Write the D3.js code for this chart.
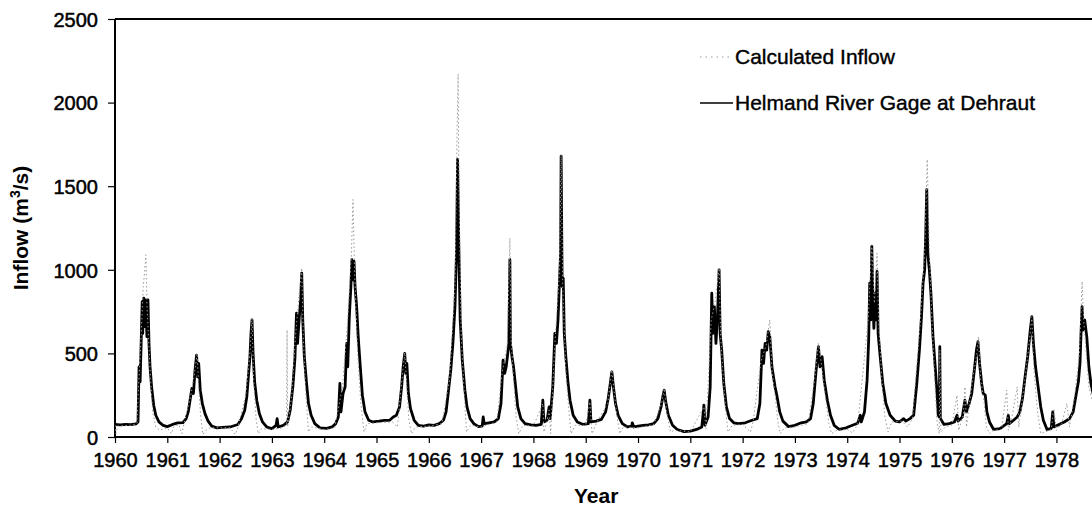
<!DOCTYPE html>
<html>
<head>
<meta charset="utf-8">
<script src="https://cdn.jsdelivr.net/npm/d3@7"></script>
<style>
  body { margin: 0; background: #fff; }
  text { font-family: "Liberation Sans", Arial, sans-serif; fill: #000; }
</style>
</head>
<body>
<script>
// tick labels
const yTicks = [0, 500, 1000, 1500, 2000, 2500];
const xTicks = d3.range(1960, 1979);
const legendLabels = ["Calculated Inflow", "Helmand River Gage at Dehraut"];

// Helmand River gage at Dehraut, [decimal year, m3/s]
const gage = [
  [1960.00,75],[1960.10,72],[1960.20,76],[1960.30,74],[1960.40,78],[1960.44,90],[1960.46,420],[1960.48,330],
  [1960.50,560],[1960.52,810],[1960.53,620],[1960.55,830],[1960.57,660],[1960.59,820],[1960.61,600],[1960.63,820],
  [1960.65,560],[1960.67,420],[1960.70,300],[1960.74,190],[1960.78,130],[1960.84,90],[1960.92,70],[1961.00,62],
  [1961.10,75],[1961.20,84],[1961.30,86],[1961.36,110],[1961.40,150],[1961.44,230],[1961.47,290],[1961.50,260],
  [1961.53,400],[1961.56,490],[1961.58,360],[1961.60,440],[1961.63,280],[1961.67,200],[1961.72,140],[1961.78,95],
  [1961.85,65],[1961.95,55],[1962.05,58],[1962.20,60],[1962.35,75],[1962.42,110],[1962.48,160],[1962.52,240],
  [1962.55,360],[1962.58,480],[1962.60,620],[1962.62,700],[1962.64,500],[1962.67,330],[1962.71,220],[1962.76,140],
  [1962.82,90],[1962.90,60],[1963.00,50],[1963.08,70],[1963.10,110],[1963.12,60],[1963.22,70],[1963.30,90],
  [1963.35,160],[1963.40,300],[1963.44,470],[1963.47,740],[1963.49,560],[1963.52,700],[1963.55,820],[1963.57,980],
  [1963.59,700],[1963.62,480],[1963.66,330],[1963.70,200],[1963.75,130],[1963.82,80],[1963.92,55],[1964.05,52],
  [1964.15,60],[1964.22,80],[1964.27,120],[1964.30,320],[1964.32,150],[1964.36,260],[1964.40,300],[1964.43,560],
  [1964.45,420],[1964.48,720],[1964.51,900],[1964.53,1060],[1964.55,940],[1964.57,1050],[1964.59,900],[1964.62,780],
  [1964.65,600],[1964.69,420],[1964.73,250],[1964.78,150],[1964.85,100],[1964.93,90],[1965.05,95],[1965.15,100],
  [1965.25,100],[1965.32,120],[1965.38,130],[1965.44,180],[1965.48,300],[1965.51,420],[1965.54,500],[1965.56,380],
  [1965.58,440],[1965.61,260],[1965.65,170],[1965.72,100],[1965.80,70],[1965.90,65],[1966.00,72],[1966.10,70],
  [1966.20,80],[1966.28,100],[1966.33,150],[1966.37,260],[1966.42,400],[1966.46,560],[1966.50,780],[1966.53,1100],
  [1966.55,1660],[1966.57,1200],[1966.60,700],[1966.64,460],[1966.69,280],[1966.73,180],[1966.79,110],[1966.86,80],
  [1966.95,62],[1967.02,65],[1967.04,120],[1967.06,80],[1967.15,85],[1967.25,90],[1967.33,110],[1967.38,200],
  [1967.42,460],[1967.45,380],[1967.48,420],[1967.51,500],[1967.53,560],[1967.55,1060],[1967.56,560],[1967.59,480],
  [1967.62,420],[1967.66,300],[1967.70,180],[1967.76,110],[1967.84,80],[1967.95,72],[1968.05,70],[1968.15,75],
  [1968.18,220],[1968.20,90],[1968.26,100],[1968.30,180],[1968.32,110],[1968.37,300],[1968.41,620],[1968.44,560],
  [1968.47,700],[1968.50,940],[1968.52,1100],[1968.53,1680],[1968.55,900],[1968.57,950],[1968.59,620],[1968.62,480],
  [1968.66,330],[1968.70,220],[1968.76,130],[1968.84,90],[1968.95,75],[1969.05,80],[1969.08,220],[1969.10,90],
  [1969.20,95],[1969.30,105],[1969.38,150],[1969.43,230],[1969.47,320],[1969.50,390],[1969.53,300],[1969.57,200],
  [1969.62,130],[1969.70,80],[1969.80,60],[1969.88,65],[1969.89,85],[1969.92,60],[1970.00,65],[1970.10,70],
  [1970.20,72],[1970.30,80],[1970.38,110],[1970.44,180],[1970.48,250],[1970.50,280],[1970.53,210],[1970.58,130],
  [1970.66,70],[1970.75,45],[1970.88,32],[1971.00,35],[1971.12,45],[1971.22,60],[1971.26,190],[1971.28,70],
  [1971.34,120],[1971.38,300],[1971.41,860],[1971.43,620],[1971.46,780],[1971.49,560],[1971.52,720],[1971.55,1000],
  [1971.57,620],[1971.60,520],[1971.64,320],[1971.69,180],[1971.75,110],[1971.83,85],[1971.92,80],[1972.05,85],
  [1972.18,100],[1972.28,110],[1972.33,200],[1972.37,520],[1972.40,440],[1972.43,560],[1972.46,520],[1972.49,630],
  [1972.52,600],[1972.56,420],[1972.62,300],[1972.66,240],[1972.71,150],[1972.77,95],[1972.88,62],[1973.00,70],
  [1973.12,85],[1973.22,90],[1973.30,110],[1973.35,200],[1973.40,380],[1973.45,540],[1973.48,420],[1973.52,480],
  [1973.56,340],[1973.62,220],[1973.68,130],[1973.75,70],[1973.85,45],[1973.98,55],[1974.10,70],[1974.20,82],
  [1974.25,130],[1974.27,90],[1974.33,150],[1974.38,340],[1974.41,580],[1974.43,920],[1974.45,700],[1974.47,1140],
  [1974.49,800],[1974.51,650],[1974.53,860],[1974.55,700],[1974.57,990],[1974.59,620],[1974.63,480],[1974.68,320],
  [1974.74,200],[1974.82,130],[1974.92,95],[1975.00,90],[1975.08,110],[1975.12,95],[1975.20,110],[1975.27,130],
  [1975.33,320],[1975.38,520],[1975.42,720],[1975.45,920],[1975.48,1000],[1975.50,1200],[1975.52,1480],[1975.54,1100],
  [1975.57,1000],[1975.60,860],[1975.64,600],[1975.68,430],[1975.72,250],[1975.74,130],[1975.76,120],[1975.77,540],
  [1975.78,110],[1975.85,75],[1975.95,80],[1976.05,90],[1976.10,130],[1976.12,95],[1976.20,120],[1976.25,220],
  [1976.28,150],[1976.33,200],[1976.38,260],[1976.43,400],[1976.47,520],[1976.50,570],[1976.53,440],[1976.57,320],
  [1976.60,260],[1976.64,250],[1976.67,150],[1976.72,90],[1976.80,45],[1976.92,50],[1977.05,80],[1977.08,130],
  [1977.10,80],[1977.18,100],[1977.25,120],[1977.30,150],[1977.35,230],[1977.40,360],[1977.45,480],[1977.50,640],
  [1977.53,720],[1977.56,560],[1977.60,420],[1977.65,300],[1977.70,180],[1977.75,100],[1977.82,45],[1977.90,50],
  [1977.93,150],[1977.95,60],[1978.05,75],[1978.15,90],[1978.25,110],[1978.32,150],[1978.38,260],[1978.42,330],
  [1978.45,440],[1978.47,620],[1978.49,780],[1978.51,640],[1978.54,700],[1978.58,600],[1978.62,420],[1978.66,320],
  [1978.70,260]
];

// calculated inflow, [decimal year, m3/s]
const calc = [
  [1960.00,70],[1960.02,20],[1960.05,65],[1960.30,70],[1960.42,80],[1960.45,300],[1960.50,600],[1960.54,900],
  [1960.57,1000],[1960.59,1090],[1960.61,800],[1960.64,600],[1960.68,350],[1960.72,150],[1960.78,60],[1960.86,40],
  [1961.00,55],[1961.08,20],[1961.12,60],[1961.22,75],[1961.28,20],[1961.32,80],[1961.45,250],[1961.52,380],
  [1961.57,500],[1961.60,300],[1961.64,120],[1961.68,15],[1961.74,40],[1961.82,55],[1962.00,55],[1962.20,55],
  [1962.30,15],[1962.35,60],[1962.50,250],[1962.58,500],[1962.62,710],[1962.65,350],[1962.70,100],[1962.74,20],
  [1962.80,50],[1963.00,45],[1963.20,55],[1963.28,80],[1963.29,640],[1963.30,60],[1963.38,250],[1963.45,600],
  [1963.52,850],[1963.57,1010],[1963.60,600],[1963.65,250],[1963.70,30],[1963.76,60],[1964.00,45],[1964.20,55],
  [1964.35,300],[1964.45,700],[1964.52,1100],[1964.55,1420],[1964.58,1000],[1964.64,500],[1964.70,200],[1964.76,30],
  [1964.82,80],[1965.00,85],[1965.30,90],[1965.40,60],[1965.48,320],[1965.54,505],[1965.58,300],[1965.62,100],
  [1965.67,20],[1965.75,60],[1966.00,65],[1966.25,80],[1966.40,350],[1966.50,900],[1966.54,1800],[1966.56,2170],
  [1966.58,1400],[1966.62,600],[1966.68,250],[1966.72,30],[1966.80,70],[1967.00,60],[1967.30,90],[1967.40,380],
  [1967.50,550],[1967.55,1190],[1967.57,600],[1967.62,350],[1967.67,120],[1967.72,20],[1967.80,70],[1968.00,65],
  [1968.18,200],[1968.20,30],[1968.25,80],[1968.30,160],[1968.33,20],[1968.40,500],[1968.50,1000],[1968.53,1690],
  [1968.56,900],[1968.62,400],[1968.68,150],[1968.72,20],[1968.80,70],[1969.00,70],[1969.08,210],[1969.12,20],
  [1969.20,80],[1969.42,200],[1969.50,400],[1969.55,250],[1969.60,120],[1969.65,20],[1969.72,60],[1970.00,55],
  [1970.30,75],[1970.45,200],[1970.50,290],[1970.55,150],[1970.62,30],[1970.70,40],[1971.00,30],[1971.26,180],
  [1971.30,50],[1971.40,700],[1971.47,800],[1971.55,1010],[1971.58,600],[1971.62,400],[1971.68,150],[1971.72,30],
  [1971.80,70],[1972.00,75],[1972.15,30],[1972.20,90],[1972.35,450],[1972.45,550],[1972.52,700],[1972.56,400],
  [1972.62,250],[1972.68,80],[1972.72,20],[1972.80,55],[1973.00,60],[1973.25,80],[1973.38,350],[1973.45,560],
  [1973.50,450],[1973.58,250],[1973.65,80],[1973.70,20],[1973.80,40],[1974.00,45],[1974.10,25],[1974.20,75],
  [1974.40,700],[1974.47,1150],[1974.52,800],[1974.57,1100],[1974.60,700],[1974.66,350],[1974.72,120],[1974.78,30],
  [1974.85,90],[1975.05,95],[1975.15,60],[1975.25,110],[1975.40,700],[1975.48,1100],[1975.53,1660],[1975.57,1100],
  [1975.62,700],[1975.68,300],[1975.72,80],[1975.76,20],[1975.77,520],[1975.79,30],[1975.88,60],[1976.00,70],
  [1976.10,250],[1976.13,40],[1976.22,130],[1976.25,300],[1976.28,60],[1976.40,350],[1976.48,500],[1976.51,600],
  [1976.55,350],[1976.62,200],[1976.66,60],[1976.72,20],[1976.80,40],[1976.95,45],[1977.05,280],[1977.08,40],
  [1977.15,120],[1977.25,300],[1977.28,60],[1977.40,350],[1977.50,620],[1977.53,720],[1977.57,400],[1977.64,150],
  [1977.70,20],[1977.78,30],[1977.90,45],[1977.95,170],[1978.00,40],[1978.10,80],[1978.20,200],[1978.25,60],
  [1978.35,250],[1978.44,500],[1978.49,930],[1978.52,700],[1978.57,500],[1978.62,300],[1978.70,200]
];

const margin = { top: 19, right: 0, bottom: 76, left: 115 };
const W = 1092, H = 513;
const width = W - margin.left - margin.right;
const height = H - margin.top - margin.bottom;

const svg = d3.select("body").append("svg")
    .attr("width", W)
    .attr("height", H);

const g = svg.append("g").attr("transform", `translate(${margin.left},${margin.top})`);

// chart is cut off on the right, a bit past 1978
const x = d3.scaleLinear().domain([1960, 1978.68]).range([0, width]);
const y = d3.scaleLinear().domain([0, 2500]).range([height, 0]);

g.append("clipPath").attr("id", "plot")
  .append("rect").attr("width", width).attr("height", height + 1);

// axes
const yAxis = g.append("g")
    .call(d3.axisLeft(y).tickValues(yTicks).tickFormat(d3.format("d")).tickSize(7).tickPadding(10));
const xAxis = g.append("g")
    .attr("transform", `translate(0,${height})`)
    .call(d3.axisBottom(x).tickValues(xTicks).tickFormat(d3.format("d")).tickSize(6).tickPadding(10));

[xAxis, yAxis].forEach(a => {
  a.select(".domain").remove();
  a.selectAll("line").attr("stroke", "#000").attr("stroke-width", 1.2);
  a.selectAll("text")
    .attr("font-size", 20)
    .attr("font-family", "Liberation Sans, Arial, sans-serif")
    .attr("stroke", "#000")
    .attr("stroke-width", 0.5);
});
yAxis.selectAll("text").attr("dy", "0.36em");

// frame: left, bottom, top (right side is cropped)
g.append("line").attr("x1", 0).attr("x2", 0).attr("y1", 0).attr("y2", height)
  .attr("stroke", "#000").attr("stroke-width", 2);
g.append("line").attr("x1", 0).attr("x2", width).attr("y1", height).attr("y2", height)
  .attr("stroke", "#000").attr("stroke-width", 2);
g.append("line").attr("x1", 0).attr("x2", width).attr("y1", 0).attr("y2", 0)
  .attr("stroke", "#000").attr("stroke-width", 2);

const line = d3.line().x(d => x(d[0])).y(d => y(d[1]));

const plot = g.append("g").attr("clip-path", "url(#plot)");

plot.append("path")
    .datum(gage)
    .attr("d", line)
    .attr("fill", "none")
    .attr("stroke", "#000")
    .attr("stroke-width", 2.8)
    .attr("stroke-linejoin", "round");

plot.append("path")
    .datum(calc)
    .attr("d", line)
    .attr("fill", "none")
    .attr("stroke", "#999")
    .attr("stroke-width", 1)
    .attr("stroke-dasharray", "1.5,2.5");

// legend
const legend = svg.append("g").attr("transform", "translate(700,0)");
legend.append("line").attr("x1", 0).attr("x2", 30).attr("y1", 57).attr("y2", 57)
  .attr("stroke", "#999").attr("stroke-width", 1).attr("stroke-dasharray", "1.5,4");
legend.append("line").attr("x1", 0).attr("x2", 33).attr("y1", 103).attr("y2", 103)
  .attr("stroke", "#000").attr("stroke-width", 1.6);
legend.selectAll("text.lg")
  .data(legendLabels)
  .join("text")
    .attr("class", "lg")
    .attr("x", 35)
    .attr("y", (d, i) => 64 + i * 46)
    .attr("font-size", 21)
    .attr("stroke", "#000")
    .attr("stroke-width", 0.4)
    .text(d => d);

// axis titles
svg.append("text")
    .attr("x", margin.left + x(1969.2))
    .attr("y", 503)
    .attr("text-anchor", "middle")
    .attr("font-size", 21)
    .attr("font-weight", "bold")
    .text("Year");

const yt = svg.append("text")
    .attr("transform", "translate(28,228) rotate(-90)")
    .attr("text-anchor", "middle")
    .attr("font-size", 21)
    .attr("font-weight", "bold");
yt.append("tspan").text("Inflow (m");
yt.append("tspan").attr("dy", -8).attr("font-size", 14).text("3");
yt.append("tspan").attr("dy", 8).text("/s)");
</script>
</body>
</html>
